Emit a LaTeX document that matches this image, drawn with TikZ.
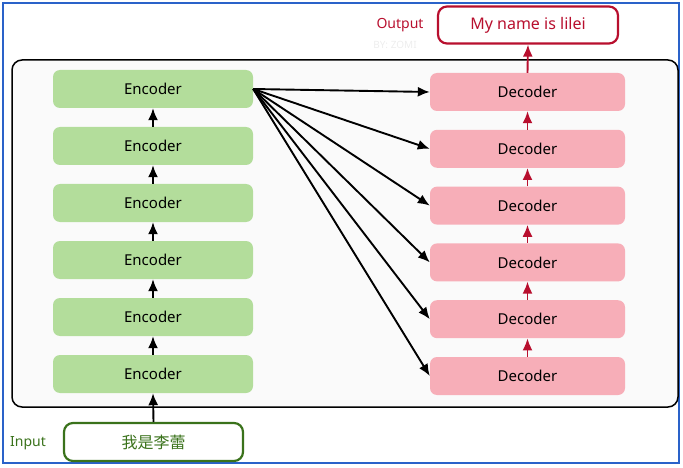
\documentclass[tikz,border=0pt]{standalone}
\usepackage{fontspec}
\setmainfont{Noto Sans}
\newfontfamily\cjk{Noto Sans CJK SC}
\usetikzlibrary{arrows.meta}
\definecolor{encgreen}{HTML}{B3DD9B}
\definecolor{decpink}{HTML}{F7AEB8}
\definecolor{outred}{HTML}{B80F2E}
\definecolor{ingreen}{HTML}{3A721B}
\definecolor{frameblue}{HTML}{2A62C9}
\tikzset{
  encbox/.style={fill=encgreen,rounded corners=7pt,minimum width=200pt,minimum height=38pt,font=\fontsize{15}{17}\selectfont},
  decbox/.style={fill=decpink,rounded corners=7pt,minimum width=195pt,minimum height=38pt,font=\fontsize{15}{17}\selectfont},
  arr/.style={-{Latex[length=12pt,width=10pt]},line width=1.9pt},
}
\begin{document}
\begin{tikzpicture}[x=1pt,y=-1pt]
\useasboundingbox (0,0) rectangle (683,468);
\draw[frameblue,line width=1.5pt] (3,3) rectangle (679,463);
\draw[fill=black!2,line width=1.5pt,rounded corners=10pt] (12,60) rectangle (678,407);
\node[black!7,font=\fontsize{10}{11}\selectfont\bfseries] (wm) at (395,45) {BY: ZOMI};
% encoder / decoder stacks
\foreach \i in {1,...,6} {
  \node[encbox] (enc\i) at (153,{89+57*(\i-1)}) {Encoder};
  \node[decbox] (dec\i) at (527.5,{92+56.8*(\i-1)}) {Decoder};
}
\foreach \i [evaluate=\i as \j using int(\i+1)] in {1,...,5} {
  \draw[arr] (enc\j.north)--(enc\i.south);
  \draw[arr,outred] (dec\j.north)--(dec\i.south);
}
\foreach \i in {1,...,6} \draw[arr] (enc1.east)--(dec\i.west);
% input and output
\node[draw=outred,line width=2.2pt,fill=white,rounded corners=9pt,minimum width=180pt,minimum height=37pt,text=outred,font=\fontsize{16}{18}\selectfont] (out) at (528,25) {My name is lilei};
\node[text=outred,font=\fontsize{14}{16}\selectfont] (outlbl) at (400,25) {Output};
\node[draw=ingreen,line width=2.2pt,fill=white,rounded corners=9pt,minimum width=179pt,minimum height=38pt,text=ingreen,font=\cjk\fontsize{16}{18}\selectfont] (in) at (153.5,442) {我是李蕾};
\node[text=ingreen,font=\fontsize{14}{16}\selectfont] (inlbl) at (28,443) {Input};
\draw[arr,outred] (dec1.north)--(out.south);
\draw[arr] (in.north)--(enc6.south);
\end{tikzpicture}
\end{document}
